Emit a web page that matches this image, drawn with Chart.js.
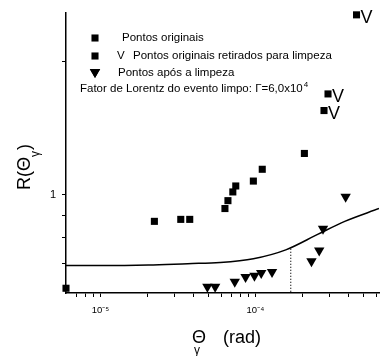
<!DOCTYPE html>
<html>
<head>
<meta charset="utf-8">
<script src="https://cdn.jsdelivr.net/npm/chart.js@4/dist/chart.umd.min.js"></script>
<style>
  html, body { margin: 0; padding: 0; background: #fff; }
  #wrap { width: 385px; height: 356px; }
</style>
</head>
<body>
<div id="wrap"><canvas id="grafico" width="385" height="356"></canvas></div>
<script>
// pontos originais (quadrados)
var originaisX = [6.0e-6, 2.23e-5, 3.30e-5, 3.77e-5, 6.36e-5, 6.65e-5, 7.15e-5, 7.47e-5, 9.7e-5, 1.107e-4, 2.07e-4];
var originaisY = [0.615, 0.871, 0.880, 0.880, 0.931, 0.970, 1.015, 1.047, 1.074, 1.142, 1.24];

// pontos originais retirados para limpeza (quadrado + V)
var retiradosX = [2.77e-4, 2.94e-4, 4.49e-4];
var retiradosY = [1.55, 1.69, 2.55];

// pontos apos a limpeza (triangulos)
var limposX = [4.90e-5, 5.50e-5, 7.36e-5, 8.64e-5, 9.86e-5, 1.09e-4, 1.28e-4, 2.30e-4, 2.58e-4, 2.73e-4, 3.82e-4];
var limposY = [0.62, 0.62, 0.636, 0.652, 0.656, 0.666, 0.669, 0.708, 0.748, 0.838, 0.99];

// curva ajustada
var curvaX = [6.0e-6, 1.0e-5, 2.04e-5, 3.66e-5, 5.91e-5, 9.7e-5, 1.57e-4, 2.54e-4, 3.77e-4, 6.27e-4];
var curvaY = [0.692, 0.692, 0.694, 0.699, 0.703, 0.717, 0.751, 0.815, 0.871, 0.931];

// linha pontilhada vertical
var corteX = [1.69e-4, 1.69e-4];
var corteY = [0.755, 0.6];

// ticks dos eixos
var ticksX = [7e-6, 8e-6, 9e-6, 1e-5, 2e-5, 3e-5, 4e-5, 5e-5, 6e-5, 7e-5, 8e-5, 9e-5, 1e-4, 2e-4, 3e-4, 4e-4, 5e-4, 6e-4];
var rotulosX = { '0.00001': '10\u207B\u2075', '0.0001': '10\u207B\u2074' };
var ticksY = [0.7, 0.8, 0.9, 1, 2];
var rotulosY = { '1': '1' };

function pares(xs, ys) {
    return xs.map(function(x, i) { return { x: x, y: ys[i] }; });
}

var fonte = '"Liberation Sans", Arial, sans-serif';

var textos = {
    id: 'textos',
    beforeDatasetsDraw: function(chart) {
        var ctx = chart.ctx;
        ctx.save();
        ctx.fillStyle = '#000';
        ctx.textBaseline = 'middle';
        ctx.font = '11.5px ' + fonte;
        var t = 'Fator de Lorentz do evento limpo: \u0393=6,0x10';
        ctx.fillText(t, 80, 89);
        var w = ctx.measureText(t).width;
        ctx.font = '8px ' + fonte;
        ctx.fillText('4', 80 + w + 1, 85);
        ctx.restore();
    },
    afterDatasetsDraw: function(chart) {
        var ctx = chart.ctx;
        var sx = chart.scales.x, sy = chart.scales.y;
        var drawPoint = Chart.helpers.drawPoint;
        ctx.save();
        ctx.fillStyle = '#000';
        ctx.strokeStyle = '#000';
        ctx.lineWidth = 1;

        // legenda
        drawPoint(ctx, { pointStyle: 'rect', radius: 5, rotation: 0 }, 95, 38);
        drawPoint(ctx, { pointStyle: 'rect', radius: 5, rotation: 0 }, 95, 56);
        drawPoint(ctx, { pointStyle: 'triangle', radius: 6, rotation: 180 }, 95, 72);
        ctx.fill();
        ctx.textBaseline = 'middle';
        ctx.font = '11.5px ' + fonte;
        ctx.fillText('Pontos originais', 122, 38);
        ctx.fillText('V', 117, 56);
        ctx.fillText('Pontos originais retirados para limpeza', 133, 56);
        ctx.fillText('Pontos ap\u00F3s a limpeza', 118, 73);

        // V ao lado dos pontos retirados
        ctx.font = '18px ' + fonte;
        ctx.textBaseline = 'middle';
        retiradosX.forEach(function(x, i) {
            var px = sx.getPixelForValue(x), py = sy.getPixelForValue(retiradosY[i]);
            ctx.fillText('V', px + 4, py + 3);
        });

        // titulo eixo x
        ctx.textBaseline = 'alphabetic';
        ctx.font = '18px ' + fonte;
        ctx.fillText('\u0398', 192, 343);
        ctx.font = '12px ' + fonte;
        ctx.fillText('\u03B3', 194, 354);
        ctx.font = '18px ' + fonte;
        ctx.fillText('(rad)', 223, 343);

        // titulo eixo y
        ctx.translate(30, 190);
        ctx.rotate(-Math.PI / 2);
        ctx.font = '18px ' + fonte;
        var a = 'R(\u0398';
        ctx.fillText(a, 0, 0);
        var wa = ctx.measureText(a).width;
        ctx.font = '12px ' + fonte;
        ctx.fillText('\u03B3', wa, 9);
        var wg = ctx.measureText('\u03B3').width;
        ctx.font = '18px ' + fonte;
        ctx.fillText(')', wa + wg + 1, 0);
        ctx.restore();
    }
};

var ctx = document.getElementById('grafico').getContext('2d');
new Chart(ctx, {
    type: 'scatter',
    data: {
        datasets: [{
            label: 'curva',
            type: 'line',
            data: pares(curvaX, curvaY),
            borderColor: '#000',
            borderWidth: 1.5,
            pointRadius: 0,
            cubicInterpolationMode: 'monotone',
            fill: false
        }, {
            label: 'corte',
            type: 'line',
            data: pares(corteX, corteY),
            borderColor: '#000',
            borderWidth: 1.2,
            borderDash: [1, 2],
            pointRadius: 0,
            fill: false
        }, {
            label: 'Pontos originais',
            data: pares(originaisX, originaisY),
            pointStyle: 'rect',
            pointRadius: 5,
            backgroundColor: '#000',
            borderColor: '#000',
            borderWidth: 0,
            clip: false
        }, {
            label: 'Pontos originais retirados para limpeza',
            data: pares(retiradosX, retiradosY),
            pointStyle: 'rect',
            pointRadius: 5,
            backgroundColor: '#000',
            borderColor: '#000',
            borderWidth: 0,
            clip: false
        }, {
            label: 'Pontos após a limpeza',
            data: pares(limposX, limposY),
            pointStyle: 'triangle',
            rotation: 180,
            pointRadius: 6,
            backgroundColor: '#000',
            borderColor: '#000',
            borderWidth: 0,
            clip: false
        }]
    },
    options: {
        responsive: false,
        animation: false,
        devicePixelRatio: 1,
        layout: { padding: { top: 8, right: 0, bottom: 0, left: 0 } },
        plugins: {
            legend: { display: false },
            tooltip: { enabled: false }
        },
        scales: {
            x: {
                type: 'logarithmic',
                position: 'bottom',
                min: 6.0e-6,
                max: 6.27e-4,
                afterBuildTicks: function(s) {
                    s.ticks = ticksX.map(function(v) { return { value: v }; });
                },
                afterFit: function(s) { s.height = 63; },
                ticks: {
                    autoSkip: false,
                    maxRotation: 0,
                    padding: 8,
                    color: '#000',
                    font: { family: fonte, size: 9.5 },
                    callback: function(v) { return rotulosX[String(v)] || ''; }
                },
                grid: { drawOnChartArea: false, tickLength: 4, tickColor: '#000', tickWidth: 1 },
                border: { display: true, color: '#000', width: 1.5 }
            },
            y: {
                type: 'logarithmic',
                min: 0.6,
                max: 2.58,
                afterBuildTicks: function(s) {
                    s.ticks = ticksY.map(function(v) { return { value: v }; });
                },
                afterFit: function(s) { s.width = 66; },
                ticks: {
                    autoSkip: false,
                    padding: 6,
                    color: '#000',
                    font: { family: fonte, size: 11 },
                    callback: function(v) { return rotulosY[String(v)] || ''; }
                },
                grid: { drawOnChartArea: false, tickLength: 4, tickColor: '#000', tickWidth: 1 },
                border: { display: true, color: '#000', width: 1.5 }
            }
        }
    },
    plugins: [textos]
});
</script>
</body>
</html>
